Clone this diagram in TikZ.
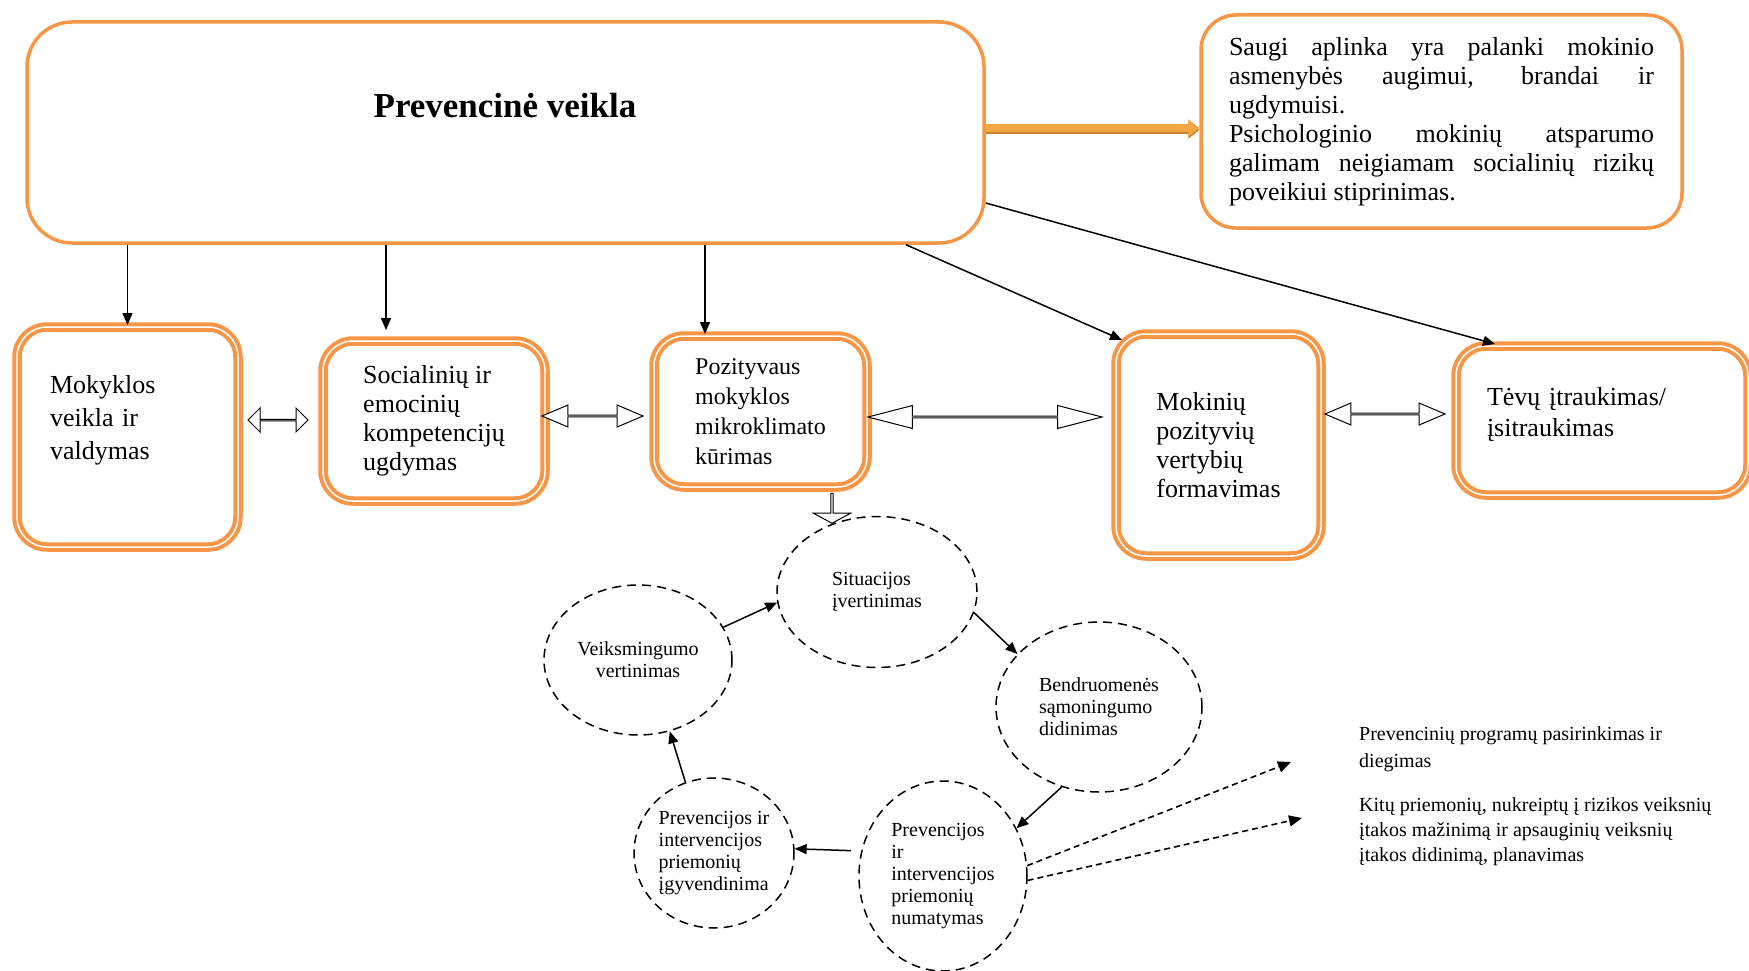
\documentclass[tikz,border=0pt]{standalone}
\usepackage{fontspec}
\setmainfont{Liberation Serif}
\usetikzlibrary{arrows.meta,shapes.geometric,shapes.arrows}
\definecolor{boxorange}{RGB}{247,150,70}
\definecolor{arrorange}{RGB}{241,168,66}
\definecolor{arrdark}{RGB}{205,130,45}
\tikzset{
  mainbox/.style={draw=boxorange, line width=3.5pt, rounded corners=45pt, inner sep=0pt},
  goalbox/.style={draw=boxorange, line width=3.5pt, rounded corners=35pt, inner xsep=28pt,
    text width=425pt, align=justify, font=\fontsize{26}{29}\selectfont},
  dbox/.style={draw=boxorange, line width=4pt, double=white, double distance=1.5pt,
    rounded corners=30pt, inner sep=0pt, align=left, font=\fontsize{26}{29}\selectfont},
  hollow/.style={draw, fill=white, line width=1pt, inner sep=0pt},
  circ/.style={ellipse, draw, dash pattern=on 9pt off 6pt, line width=1.5pt, inner sep=0pt,
    align=left, font=\fontsize{20}{22}\selectfont},
  note/.style={anchor=west, inner sep=0pt, align=left, font=\fontsize{20}{27}\selectfont},
  arr/.style={line width=1.5pt, -{Triangle[length=12pt,width=10pt]}},
  darr/.style={line width=1.6pt, dash pattern=on 6pt off 4pt, -{Triangle[length=13pt,width=11pt]}},
  orangearr/.style={draw=arrorange, line width=8pt, -{Triangle[length=11pt,width=17pt]},
    preaction={draw=arrdark, line width=8pt, transform canvas={yshift=-2pt}}}
}
\begin{document}
\begin{tikzpicture}[x=1pt, y=-1pt]
\useasboundingbox (0,0) rectangle (1749,971);
% top row
\node[mainbox, minimum width=957pt, minimum height=221pt] (main) at (505.5,132.5) {};
\node[font=\bfseries\fontsize{35}{40}\selectfont] (title) at (505,106) {Prevencinė veikla};
\node[goalbox, minimum width=481pt, minimum height=213pt] (goal) at (1441.5,121.5)
  {Saugi aplinka yra palanki mokinio\linebreak asmenybės augimui, brandai ir\linebreak
  ugdymuisi.\\Psichologinio mokinių atsparumo\linebreak galimam neigiamam socialinių
  rizikų\linebreak poveikiui stiprinimas.};
\coordinate (s0) at (0,128);
\draw[orangearr] (main.east |- s0) -- (goal.west |- s0);

% second row
\node[dbox, minimum width=221pt, minimum height=220pt, text width=155pt, inner xsep=33pt,
  text height=18pt, text depth=106pt, font=\fontsize{26}{33}\selectfont] (b1) at (127.5,437)
  {Mokyklos\\veikla ir\\valdymas};
\node[dbox, minimum width=222pt, minimum height=160pt] (b2) at (434,421)
  {Socialinių ir\\emocinių\\kompetencijų\\ugdymas};
\node[dbox, minimum width=213pt, minimum height=151pt, font=\fontsize{24}{30}\selectfont] (b3)
  at (760.5,411.5) {Pozityvaus\\mokyklos\\mikroklimato\\kūrimas};
\node[dbox, minimum width=205pt, minimum height=222pt] (b4) at (1218.5,445)
  {Mokinių\\pozityvių\\vertybių\\formavimas};
\node[dbox, minimum width=292pt, minimum height=149pt, text width=230pt, inner xsep=31pt,
  text height=18pt, text depth=49pt, font=\fontsize{26}{31}\selectfont] (b5) at (1602,420.5)
  {Tėvų įtraukimas/\\įsitraukimas};

\coordinate (t2) at (386,0);
\coordinate (t3) at (705,0);
\coordinate (s4) at (906,0);
\coordinate (s5) at (0,203);
\coordinate (e5) at (1495,0);
\draw[arr] (main.south -| b1.north) -- (b1.north);
\draw[arr, shorten >=9pt] (main.south -| t2) -- (b2.north -| t2);
\draw[arr] (main.south -| t3) -- (b3.north -| t3);
\draw[arr] (main.south -| s4) -- ([xshift=8pt,yshift=-8pt]b4.north west);
\draw[arr] (main.east |- s5) -- (b5.north -| e5);

% hollow arrows between the boxes
\node[hollow, double arrow, minimum height=60pt, minimum width=24pt,
  double arrow head extend=7.5pt, double arrow tip angle=90] (a12) at (278,420) {};
\node[hollow, double arrow, minimum height=101pt, minimum width=22pt,
  double arrow head extend=5.5pt, double arrow tip angle=46] (a23) at (592.5,416) {};
\node[hollow, double arrow, minimum height=234pt, minimum width=23pt,
  double arrow head extend=6pt, double arrow tip angle=29] (a34) at (985,417) {};
\node[hollow, double arrow, minimum height=120pt, minimum width=22pt,
  double arrow head extend=5.5pt, double arrow tip angle=46] (a45) at (1385,414) {};
\node[hollow, single arrow, rotate=-90, minimum height=30pt, minimum width=37pt,
  single arrow head extend=8.5pt, single arrow tip angle=123] (a3c) at (832,508) {};

% cycle
\node[circ, minimum width=200pt, minimum height=151pt] (sit) at (877,592)
  {Situacijos\\įvertinimas};
\node[circ, align=center, minimum width=188pt, minimum height=150pt] (veik) at (638,660)
  {Veiksmingumo\\vertinimas};
\node[circ, minimum width=206pt, minimum height=170pt] (bend) at (1099,707)
  {Bendruomenės\\sąmoningumo\\didinimas};
\node[circ, minimum width=168pt, minimum height=190pt] (numa) at (943,876)
  {Prevencijos\\ir\\intervencijos\\priemonių\\numatymas};
\node[circ, minimum width=160pt, minimum height=150pt] (igyv) at (714,853)
  {Prevencijos ir\\intervencijos\\priemonių\\įgyvendinima};
\draw[arr] (veik.21) -- (sit.186);
\draw[arr] (sit.348) -- (bend.147);
\draw[arr] (bend.245) -- (numa.33);
\draw[arr, shorten <=10pt] (numa.163) -- (igyv.3);
\draw[arr] (igyv.112) -- (veik.294);

% planned measures
\node[note] (n1) at (1359,749.5) {Prevencinių programų pasirinkimas ir\\diegimas};
\node[note, font=\fontsize{20}{25}\selectfont] (n2) at (1359,832)
  {Kitų priemonių, nukreiptų į rizikos veiksnių\\įtakos mažinimą ir apsauginių veiksnių\\įtakos didinimą, planavimas};
\coordinate (e1) at (1291,762);
\coordinate (e2) at (1302,818);
\draw[darr] (numa.7) -- (e1);
\draw[darr] (numa.357) -- (e2);
\end{tikzpicture}
\end{document}
